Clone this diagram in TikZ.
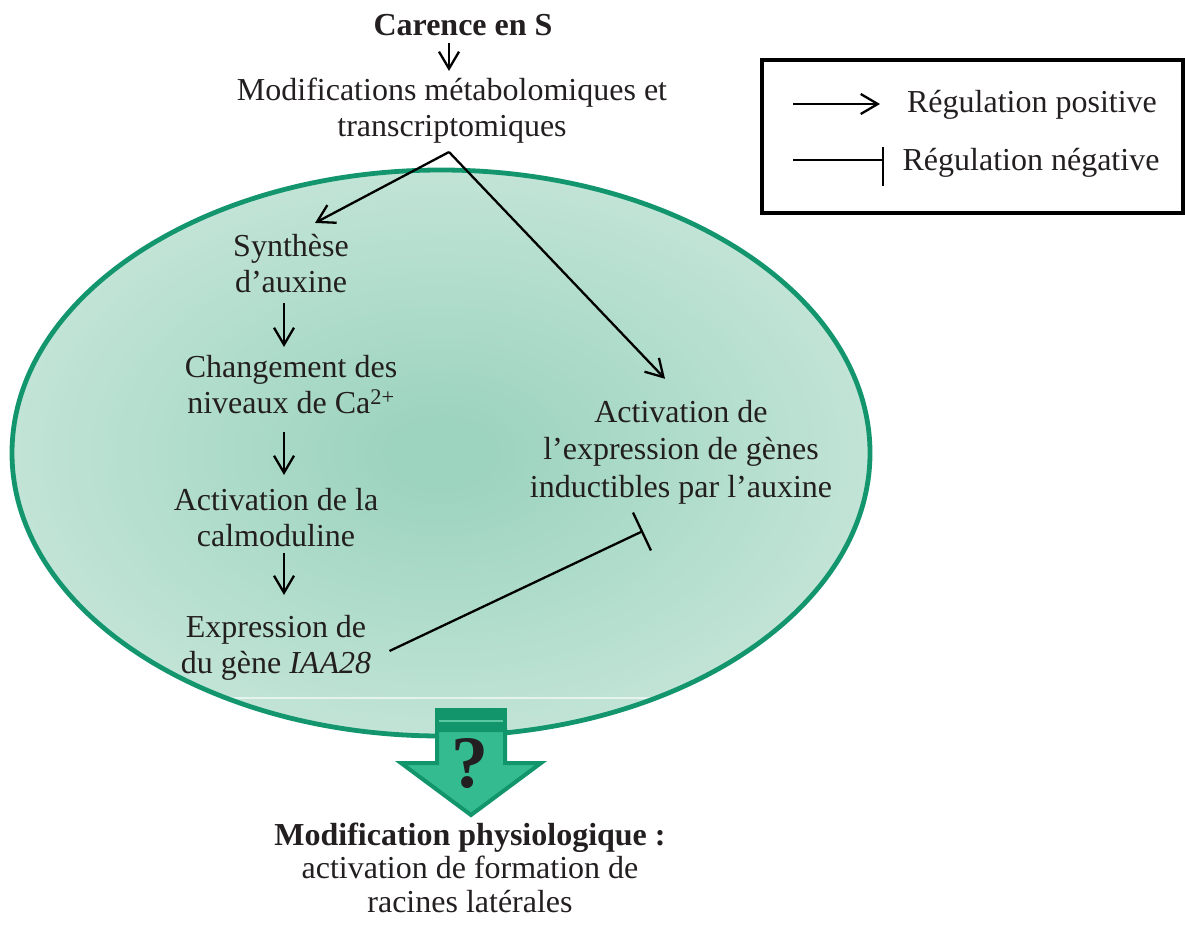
\documentclass[tikz,border=0pt]{standalone}
\usepackage{fontspec}
\setmainfont{Liberation Serif}
\usetikzlibrary{arrows.meta}
\definecolor{txt}{HTML}{231F20}
\definecolor{ellborder}{HTML}{13966E}
\definecolor{ellin}{HTML}{9DD4BF}
\definecolor{ellout}{HTML}{D2EBE1}
\definecolor{blkdark}{HTML}{12956B}
\definecolor{blklight}{HTML}{34BC90}
\definecolor{blkline}{HTML}{5DC7A2}
\pgfdeclareradialshading{ellshade}{\pgfpoint{0bp}{0bp}}{color(0bp)=(ellin); color(3bp)=(ellin); color(35bp)=(ellout); color(50bp)=(ellout)}
\newcommand{\mlt}[1]{\begin{tabular}[t]{@{}c@{}}#1\end{tabular}}
\begin{document}
\begin{tikzpicture}[x=1pt,y=-1pt,
  every node/.style={inner sep=0pt, outer sep=0pt, text=txt, font=\fontsize{32}{36.5}\selectfont},
  lbl/.style={anchor=base},
  posarr/.style={line width=2.3pt, draw=black, -{Straight Barb[length=17pt,width=20pt,line width=2.3pt]}},
  negarr/.style={line width=2.3pt, draw=black, -{Bar[width=42pt,line width=2.3pt]}},
  ell/.style={x radius=429, y radius=283},
]
\useasboundingbox (0,0) rectangle (1185,924);

% cell
\shade[shading=ellshade] (441,453) ellipse [ell];
\begin{scope}
  \clip (441,453) ellipse [ell];
  \draw[white, opacity=0.6, line width=1.2pt] (0,698) -- (900,698);
\end{scope}
\draw[ellborder, line width=4.8pt] (441,453) ellipse [ell];

% texts
\node[lbl, font=\bfseries\fontsize{32}{36.5}\selectfont] (carence) at (463,35) {Carence en S};
\node[lbl] (modif) at (452,100) {\mlt{Modifications métabolomiques et\\transcriptomiques}};
\node[lbl] (synth) at (291,256) {\mlt{Synthèse\\d’auxine}};
\node[lbl] (chg) at (291,377) {\mlt{Changement des\\niveaux de Ca\textsuperscript{2+}}};
\node[lbl] (calm) at (276,510) {\mlt{Activation de la\\calmoduline}};
\node[lbl] (expr) at (276,637) {\mlt{Expression de\\du gène \textit{IAA28}}};
\node[lbl, font=\fontsize{32}{37.5}\selectfont] (act) at (681,422) {\mlt{Activation de\\l’expression de gènes\\inductibles par l’auxine}};

% connectors
\coordinate (br) at (449,152);
\coordinate (ax) at (284,0);
\draw[posarr, shorten <=7.7pt, shorten >=3.5pt] (carence.south -| br) -- (modif.north -| br);
\draw[posarr] (br) -- ([xshift=24pt,yshift=7.5pt]synth.north);
\draw[posarr] (br) -- ([xshift=-16pt,yshift=17pt]act.north);
\draw[posarr, shorten >=4.5pt] (synth.south -| ax) -- (chg.north -| ax);
\draw[posarr, shorten <=7.5pt, shorten >=9.5pt] (chg.south -| ax) -- (calm.north -| ax);
\draw[posarr, shorten <=-4.5pt, shorten >=16.5pt] (calm.south -| ax) -- (expr.north -| ax);
\draw[negarr] ([xshift=18.5pt,yshift=-3pt]expr.east) -- ([xshift=-38pt,yshift=-22.75pt]act.south);

% big arrow
\draw[fill=blklight, draw=blkdark, line width=4pt, line join=miter]
  (437,730) -- (505,730) -- (505,763) -- (541,763) -- (471,815) -- (401,763) -- (437,763) -- cycle;
\fill[blkdark] (435,708) rectangle (507,731);
\draw[blkline, line width=1.5pt] (439,721) -- (503,721);
\node[lbl, font=\bfseries\fontsize{74}{74}\selectfont] (q) at (470,787) {?};

% bottom text
\node[lbl, font=\fontsize{32}{33.5}\selectfont] (phys) at (470,845) {\mlt{\textbf{Modification physiologique :}\\activation de formation de\\racines latérales}};

% legend
\node[draw=black, line width=4pt, minimum width=421pt, minimum height=153pt] (legend) at (972.5,136.5) {};
\node[lbl] (lpos) at (1032,112.5) {Régulation positive};
\node[lbl] (lneg) at (1031,170) {Régulation négative};
\draw[posarr] (793,104) -- (880,104);
\draw[line width=2.3pt] (793,160) -- (883,160);
\draw[line width=2.3pt] (883,147) -- (883,186);
\end{tikzpicture}
\end{document}
